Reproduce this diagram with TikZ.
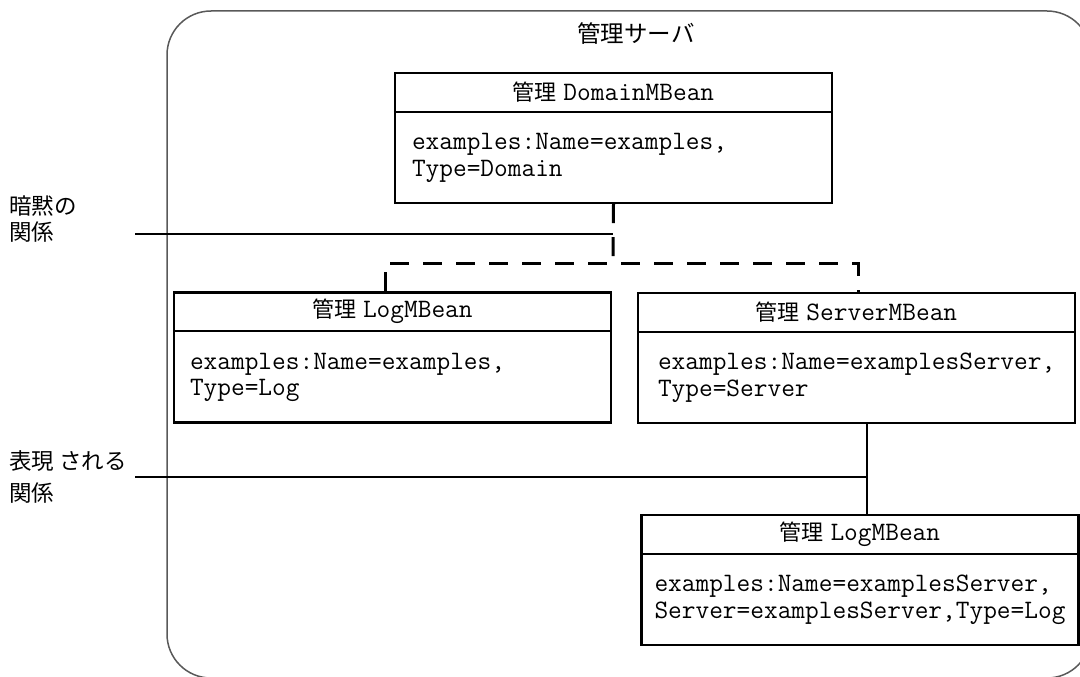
\documentclass[tikz,border=0pt]{standalone}
\usepackage{fontspec}
\newfontfamily\cjk{Noto Sans CJK JP}
\usetikzlibrary{calc}

\begin{document}
\begin{tikzpicture}[x=1pt,y=-1pt,
  frame/.style={draw=black!65, line width=1.5pt, rounded corners=44pt},
  mbean/.style={draw, line width=2.4pt, minimum width=437pt, minimum height=130pt, inner sep=0pt},
  divider/.style={line width=2pt},
  headtext/.style={inner sep=0pt, font=\fontsize{22}{26}\selectfont},
  headcjk/.style={font=\cjk\fontsize{22}{26}\selectfont},
  bodytext/.style={anchor=west, align=left, inner sep=0pt, font=\ttfamily\fontsize{26.6}{26.5}\selectfont},
  sidelabel/.style={anchor=north west, align=left, inner sep=0pt, font=\cjk\fontsize{22.5}{30}\selectfont},
  implicit/.style={line width=3pt, dash pattern=on 19pt off 14pt},
  explicit/.style={line width=2.8pt},
  leader/.style={line width=2.2pt}]
  \useasboundingbox (0,0) rectangle (1080,677);
  \clip (0,0) rectangle (1080,677);

  % administration server frame
  \draw[frame] (167,11) rectangle (1091,678);
  \node[inner sep=0pt, font=\cjk\fontsize{23.5}{28}\selectfont] (title) at (636,34) {管理サーバ};

  % MBean boxes
  \node[mbean] (dom)  at (613.5,138) {};
  \node[mbean] (logA) at (392.5,357.5) {};
  \node[mbean] (srv)  at (856.5,358) {};
  \node[mbean] (logB) at (860,580) {};

  % header separators
  \foreach \b in {dom,logA,srv,logB}
    \draw[divider] ([yshift=-40pt]\b.north west) -- ([yshift=-40pt]\b.north east);

  % headers
  \newcommand\hdr[1]{{\cjk\fontsize{22}{26}\selectfont 管理} {\ttfamily\fontsize{26.6}{26}\selectfont #1}}
  \node[headtext] (domH)  at ([yshift=-20pt]dom.north)  {\hdr{DomainMBean}};
  \node[headtext] (logAH) at ([yshift=-20pt]logA.north) {\hdr{LogMBean}};
  \node[headtext] (srvH)  at ([yshift=-20pt]srv.north)  {\hdr{ServerMBean}};
  \node[headtext] (logBH) at ([yshift=-20pt]logB.north) {\hdr{LogMBean}};

  % object names
  \node[bodytext] (domB)  at ([xshift=18pt,yshift=-86pt]dom.north west)  {examples:Name=examples,\\Type=Domain};
  \node[bodytext] (logAB) at ([xshift=17pt,yshift=-86pt]logA.north west) {examples:Name=examples,\\Type=Log};
  \node[bodytext] (srvB)  at ([xshift=21pt,yshift=-86pt]srv.north west)  {examples:Name=examplesServer,\\Type=Server};
  \node[bodytext] (logBB) at ([xshift=14pt,yshift=-86pt]logB.north west) {examples:Name=examplesServer,\\Server=examplesServer,Type=Log};

  % implicit relationship (dashed)
  \coordinate (j) at (613,263);
  \draw[implicit] (dom.south) -- (j);
  \draw[implicit] ([xshift=-7pt]logA.north) |- (j) -| ([xshift=1.5pt]srv.north);

  % explicit relationship (solid)
  \coordinate (s) at ([xshift=10.5pt]srv.south);
  \draw[explicit] (s) -- (s |- logB.north);

  % side labels and leaders
  \node[sidelabel] (lab1) at (9,196) {暗黙の\\[-4pt]関係};
  \node[sidelabel] (lab2) at (9,450) {表現 される\\[2pt]関係};
  \coordinate (l1) at (135,234);
  \coordinate (l2) at (135,477);
  \draw[leader] (l1) -- (l1 -| j);
  \draw[leader] (l2) -- (l2 -| s);
\end{tikzpicture}
\end{document}
